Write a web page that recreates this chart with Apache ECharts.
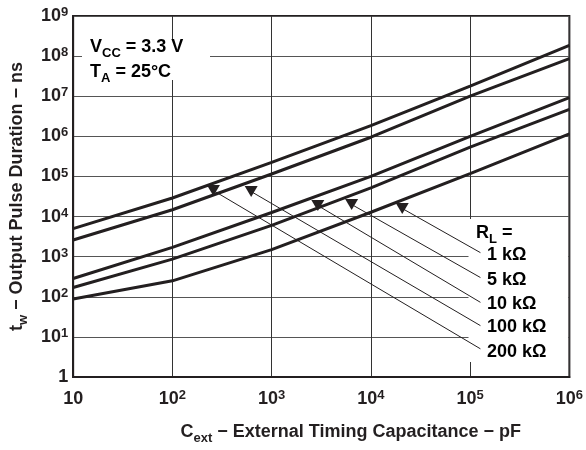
<!DOCTYPE html>
<html><head><meta charset="utf-8">
<script src="https://cdn.jsdelivr.net/npm/echarts@6/dist/echarts.min.js"></script>
<style>html,body{margin:0;padding:0;background:#fff}#c{width:586px;height:450px}</style>
</head><body><div id="c"></div>
<script>
// ---- data ----
const capacitance = [10, 100, 1000, 10000, 100000, 1000000];   // pF
const tw1k   = [88,   250,   1500,   12800,   117000,   1150000];
const tw5k   = [170,  870,   6000,   52000,   540000,   4700000];
const tw10k  = [285,  1700,  12600,  100000,  1000000,  9200000];
const tw100k = [2600, 14800, 115000, 950000,  10000000, 87000000];
const tw200k = [5000, 29000, 225000, 1850000, 17800000, 186000000];
const seriesNames = ['1 kΩ', '5 kΩ', '10 kΩ', '100 kΩ', '200 kΩ'];
const xTickLabels = ['10', '10^2', '10^3', '10^4', '10^5', '10^6'];
const yTickLabels = ['1', '10^1', '10^2', '10^3', '10^4', '10^5', '10^6', '10^7', '10^8', '10^9'];
// annotation arrows: [label end, head on curve] in data coordinates
const arrowTail = [[127000, 1260], [127000, 302], [127000, 72.7], [127000, 19.1], [127000, 5.04]];
const arrowHead = [[20700, 15900], [6400, 20000], [2920, 18800], [622, 42000], [259, 44400]];

const INK = '#231f20';
const FONT = '"Liberation Sans", Arial, Helvetica, sans-serif';
const base = { fontFamily: FONT, fontWeight: 'bold', fontSize: 18, color: INK };
const tickRich = {
  b: Object.assign({}, base, { lineHeight: 20 }),
  s: Object.assign({}, base, { fontSize: 13, lineHeight: 13, verticalAlign: 'top' })
};
const subRich = {
  b: Object.assign({}, base, { lineHeight: 26 }),
  s: Object.assign({}, base, { fontSize: 13, lineHeight: 13, verticalAlign: 'bottom' })
};
function tickText(str) {
  const p = str.split('^');
  return p.length > 1 ? '{b|' + p[0] + '}{s|' + p[1] + '}' : '{b|' + p[0] + '}';
}
const curves = [tw1k, tw5k, tw10k, tw100k, tw200k];
const series = curves.map((arr, i) => ({
  name: seriesNames[i], type: 'line', symbol: 'none', z: 3,
  data: capacitance.map((c, j) => [c, arr[j]]),
  lineStyle: { color: INK, width: 3 }, silent: true
}));
series.push({
  type: 'line', data: [], z: 2, silent: true,
  markLine: {
    silent: true, animation: false,
    symbol: ['none', 'triangle'], symbolSize: [13, 11], symbolRotate: 180,
    lineStyle: { color: INK, width: 1, type: 'solid' },
    label: { show: false },
    data: arrowTail.map((t, i) => [{ coord: t }, { coord: arrowHead[i] }])
  }
});

function capY(capTop, lh) { return capTop - (lh / 2 - 6.6); }
const graphic = [
  { type: 'rect', z: 1, shape: { x: 82, y: 39, width: 128, height: 41 }, style: { fill: '#fff' } },
  { type: 'rect', z: 1, shape: { x: 468.5, y: 219, width: 99.5, height: 143 }, style: { fill: '#fff' } },
  { type: 'text', z: 5, x: 90, y: capY(40.7, 26), style: { text: '{b|V}{s|CC}{b| = 3.3 V}', rich: subRich, verticalAlign: 'top' } },
  { type: 'text', z: 5, x: 90, y: capY(65, 26), style: { text: '{b|T}{s|A}{b| = 25°C}', rich: subRich, verticalAlign: 'top' } },
  { type: 'text', z: 5, x: 476, y: capY(226, 26), style: { text: '{b|R}{s|L}{b| =}', rich: subRich, verticalAlign: 'top' } }
];
const legendTops = [248.3, 273.3, 297.3, 320.7, 345];
seriesNames.forEach((n, i) => {
  graphic.push({ type: 'text', z: 5, x: 487, y: capY(legendTops[i], 26),
    style: { text: '{b|' + n + '}', rich: subRich, verticalAlign: 'top' } });
});

const chart = echarts.init(document.getElementById('c'), null, { renderer: 'canvas' });
chart.setOption({
  animation: false,
  backgroundColor: '#fff',
  grid: { left: 72, right: 15, top: 16, bottom: 72, show: true, borderColor: INK, borderWidth: 2, backgroundColor: 'transparent' },
  xAxis: {
    type: 'log', logBase: 10, min: 10, max: 1000000, splitNumber: 5,
    name: '{b|C}{s|ext}{b| − External Timing Capacitance − pF}',
    nameLocation: 'middle', nameGap: 42,
    nameTextStyle: { rich: subRich, padding: [0, 0, 0, 59] },
    axisLine: { lineStyle: { color: INK, width: 2 } },
    axisTick: { show: false },
    splitLine: { show: true, lineStyle: { color: '#333333', width: 1 } },
    axisLabel: { margin: 12, rich: tickRich,
      formatter: v => tickText(xTickLabels[Math.round(Math.log10(v)) - 1] || '') }
  },
  yAxis: {
    type: 'log', logBase: 10, min: 1, max: 1000000000, splitNumber: 9,
    name: '{b|t}{s|w}{b| − Output Pulse Duration − ns}',
    nameLocation: 'middle', nameGap: 37,
    nameTextStyle: { rich: subRich },
    axisLine: { lineStyle: { color: INK, width: 2 } },
    axisTick: { show: false },
    splitLine: { show: true, lineStyle: { color: '#555555', width: 1 } },
    axisLabel: { margin: 5, rich: tickRich,
      formatter: v => tickText(yTickLabels[Math.round(Math.log10(v))] || '') }
  },
  graphic: graphic,
  series: series
});
</script></body></html>
